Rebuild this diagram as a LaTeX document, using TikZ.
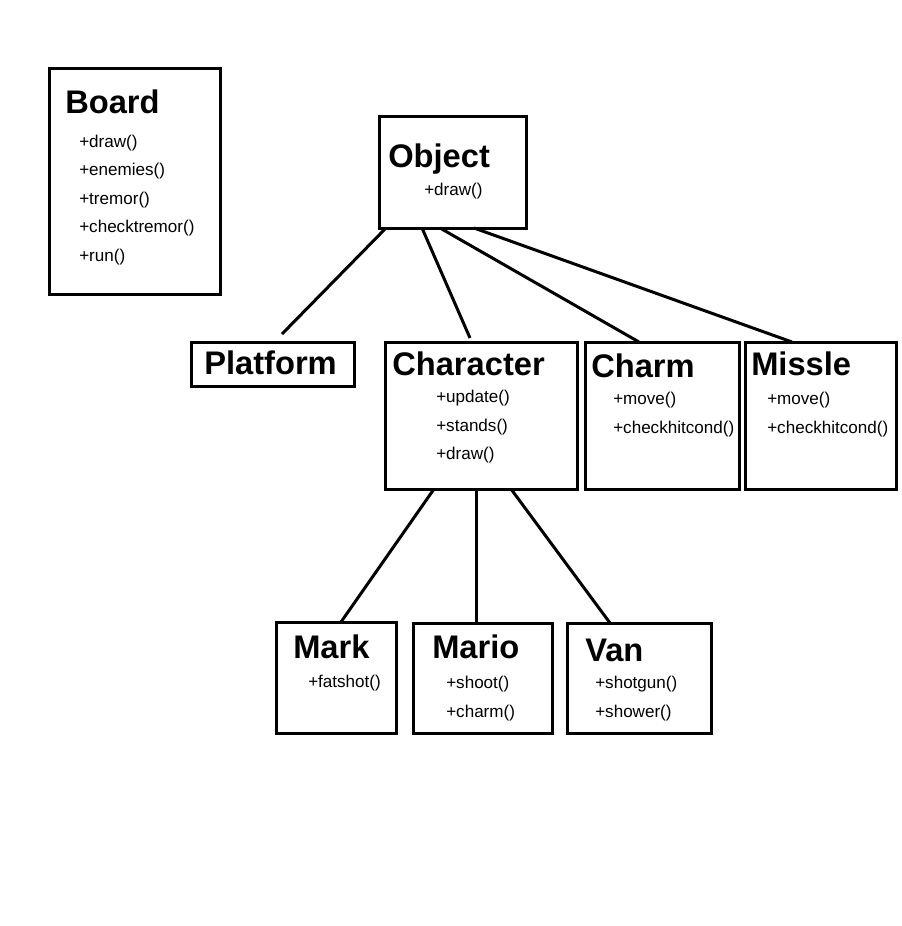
\documentclass[tikz,border=0pt]{standalone}
\usepackage{fontspec}
\setmainfont{Liberation Sans}
\usetikzlibrary{fit}

\tikzset{
    box/.style={draw, line width=2.25pt, inner sep=0pt, outer sep=0pt},
    title/.style={anchor=base west, inner sep=0pt, font=\fontsize{24.5}{28}\selectfont\bfseries},
    method/.style={anchor=base west, inner sep=0pt, font=\fontsize{12.8}{15}\selectfont},
    link/.style={line width=2.25pt}
}

\begin{document}
\begin{tikzpicture}[x=0.75pt,y=-0.75pt]
    \useasboundingbox (0,0) rectangle (901,926);

    % class boxes
    \node[box, fit={(49,68) (220,294)}] (board) {};
    \node[box, fit={(379,116) (526,228)}] (object) {};
    \node[box, fit={(191,342) (354,386)}] (platform) {};
    \node[box, fit={(385,342) (577,489)}] (character) {};
    \node[box, fit={(585,342) (739,489)}] (charm) {};
    \node[box, fit={(745,342) (896,489)}] (missle) {};
    \node[box, fit={(276,622) (396,733)}] (mark) {};
    \node[box, fit={(413,623) (552,733)}] (mario) {};
    \node[box, fit={(567,623) (711,733)}] (van) {};

    % Board
    \node[title] (board-name) at (65,113) {Board};
    \foreach \m [count=\i] in {draw,enemies,tremor,checktremor,run}
        \node[method] (board-m\i) at (79,{147+28.5*(\i-1)}) {+\m()};

    % Object
    \node[title] (object-name) at (388,167) {Object};
    \node[method] (object-m1) at (424,195) {+draw()};

    % Platform
    \node[title] (platform-name) at (204,374) {Platform};

    % Character
    \node[title] (character-name) at (392,375) {Character};
    \node[method] (character-m1) at (436,402) {+update()};
    \node[method] (character-m2) at (436,431) {+stands()};
    \node[method] (character-m3) at (436,459) {+draw()};

    % Charm
    \node[title] (charm-name) at (591,377) {Charm};
    \node[method] (charm-m1) at (613,404) {+move()};
    \node[method] (charm-m2) at (613,433) {+checkhitcond()};

    % Missle
    \node[title] (missle-name) at (751,375) {Missle};
    \node[method] (missle-m1) at (767,404) {+move()};
    \node[method] (missle-m2) at (767,433) {+checkhitcond()};

    % Mark
    \node[title] (mark-name) at (293,658) {Mark};
    \node[method] (mark-m1) at (308,687) {+fatshot()};

    % Mario
    \node[title] (mario-name) at (432,658) {Mario};
    \node[method] (mario-m1) at (446,688) {+shoot()};
    \node[method] (mario-m2) at (446,717) {+charm()};

    % Van
    \node[title] (van-name) at (585,661) {Van};
    \node[method] (van-m1) at (595,688) {+shotgun()};
    \node[method] (van-m2) at (595,717) {+shower()};

    % inheritance lines
    \draw[link]([shift={(7,0)}]object.south west)--([shift={(91,-8)}]platform.north west);
    \draw[link]([shift={(43,0)}]object.south west)--([shift={(85,-4)}]character.north west);
    \draw[link]([shift={(61,0)}]object.south west)--([shift={(54,0)}]charm.north west);
    \draw[link]([shift={(95,0)}]object.south west)--([shift={(47,0)}]missle.north west);

    \draw[link]([shift={(49,0)}]character.south west)--([shift={(65,0)}]mark.north west);
    \draw[link]([shift={(91,0)}]character.south west)--([shift={(63,0)}]mario.north west);
    \draw[link]([shift={(126,0)}]character.south west)--([shift={(43,0)}]van.north west);
\end{tikzpicture}
\end{document}
